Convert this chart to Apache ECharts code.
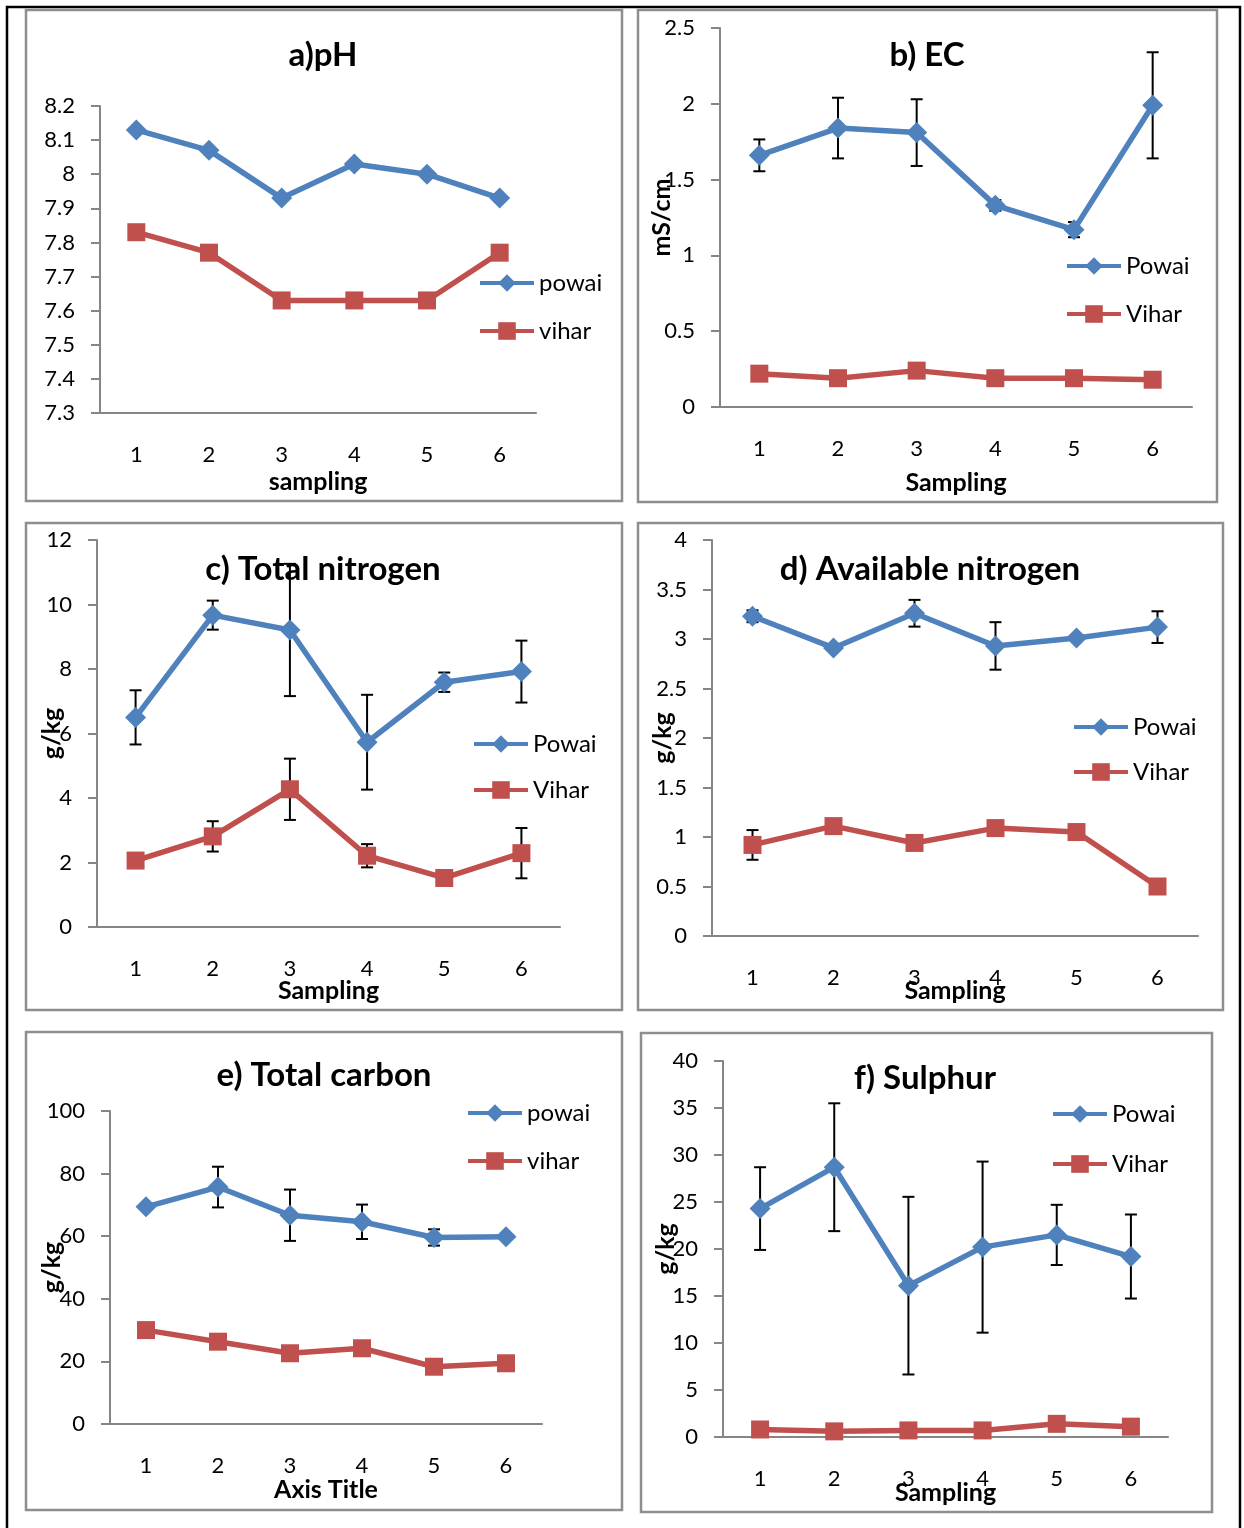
<!DOCTYPE html>
<html>
<head>
<meta charset="utf-8">
<script src="https://cdn.jsdelivr.net/npm/echarts@6/dist/echarts.min.js"></script>
<style>
  html, body { margin: 0; padding: 0; background: #fff; }
  #chart { width: 1244px; height: 1528px; }
</style>
</head>
<body>
<div id="chart"></div>
<script>
// Sampling rounds on the category axis
const samplings = ['1', '2', '3', '4', '5', '6'];

// a) pH
const phPowai = [8.13, 8.07, 7.93, 8.03, 8.00, 7.93];
const phVihar = [7.83, 7.77, 7.63, 7.63, 7.63, 7.77];

// b) EC, mS/cm
const ecPowai = [1.66, 1.84, 1.81, 1.33, 1.17, 1.99];
const ecPowaiErr = [0.105, 0.20, 0.22, 0.035, 0.05, 0.35];
const ecVihar = [0.22, 0.19, 0.24, 0.19, 0.19, 0.18];

// c) Total nitrogen, g/kg
const tnPowai = [6.50, 9.67, 9.21, 5.73, 7.59, 7.92];
const tnPowaiErr = [0.84, 0.45, 2.05, 1.47, 0.30, 0.96];
const tnVihar = [2.06, 2.81, 4.27, 2.21, 1.52, 2.29];
const tnViharErr = [0, 0.47, 0.95, 0.36, 0, 0.78];

// d) Available nitrogen, g/kg
const anPowai = [3.23, 2.91, 3.26, 2.93, 3.01, 3.12];
const anPowaiErr = [0.06, 0, 0.135, 0.24, 0.03, 0.16];
const anVihar = [0.92, 1.11, 0.94, 1.09, 1.05, 0.50];
const anViharErr = [0.15, 0, 0, 0, 0, 0];

// e) Total carbon, g/kg
const tcPowai = [69.4, 75.7, 66.7, 64.6, 59.6, 59.8];
const tcPowaiErr = [0, 6.5, 8.2, 5.5, 2.6, 0];
const tcVihar = [30.0, 26.3, 22.6, 24.2, 18.3, 19.4];

// f) Sulphur, g/kg
const sPowai = [24.3, 28.7, 16.1, 20.2, 21.5, 19.2];
const sPowaiErr = [4.4, 6.8, 9.45, 9.1, 3.2, 4.47];
const sVihar = [0.8, 0.6, 0.7, 0.7, 1.4, 1.1];

// Value-axis ranges [min, max, step]
const phRange = [7.3, 8.2, 0.1];
const ecRange = [0, 2.5, 0.5];
const tnRange = [0, 12, 2];
const anRange = [0, 4, 0.5];
const tcRange = [0, 100, 20];
const sRange = [0, 40, 5];

const BLUE = '#4F81BD';
const RED = '#C0504D';
const AXIS_GREY = '#868686';
const FONT = 'Lato, "Open Sans", sans-serif';

// Layout of each panel: frame box, plot area, title, legend, axis names
const panels = [
  { title: 'a)pH', names: ['powai', 'vihar'], powai: phPowai, vihar: phVihar, range: phRange,
    frame: [26, 10, 596, 491], grid: [100, 106, 436, 307], titleAt: [323, 55],
    legendAt: [478, 272], legendGap: 24, xName: 'sampling', xNameGap: 56, yName: '', yNameGap: 0 },
  { title: 'b) EC', names: ['Powai', 'Vihar'], powai: ecPowai, vihar: ecVihar, range: ecRange,
    powaiErr: ecPowaiErr,
    frame: [638, 10, 579, 492], grid: [720, 28, 472, 379], titleAt: [927, 55],
    legendAt: [1065, 255], legendGap: 24, xName: 'Sampling', xNameGap: 63, yName: 'mS/cm', yNameGap: 46 },
  { title: 'c) Total nitrogen', names: ['Powai', 'Vihar'], powai: tnPowai, vihar: tnVihar, range: tnRange,
    powaiErr: tnPowaiErr, viharErr: tnViharErr,
    frame: [26, 523, 596, 487], grid: [97, 540, 463, 387], titleAt: [323, 569],
    legendAt: [472, 733], legendGap: 22, xName: 'Sampling', xNameGap: 51, yName: 'g/kg', yNameGap: 33 },
  { title: 'd) Available nitrogen', names: ['Powai', 'Vihar'], powai: anPowai, vihar: anVihar, range: anRange,
    powaiErr: anPowaiErr, viharErr: anViharErr,
    frame: [638, 523, 585, 487], grid: [712, 540, 486, 396], titleAt: [930, 569],
    legendAt: [1072, 716], legendGap: 21, xName: 'Sampling', xNameGap: 42, yName: 'g/kg', yNameGap: 37 },
  { title: 'e) Total carbon', names: ['powai', 'vihar'], powai: tcPowai, vihar: tcVihar, range: tcRange,
    powaiErr: tcPowaiErr,
    frame: [26, 1032, 596, 478], grid: [110, 1111, 432, 313], titleAt: [324, 1075],
    legendAt: [466, 1102], legendGap: 24, xName: 'Axis Title', xNameGap: 53, yName: 'g/kg', yNameGap: 46 },
  { title: 'f) Sulphur', names: ['Powai', 'Vihar'], powai: sPowai, vihar: sVihar, range: sRange,
    powaiErr: sPowaiErr,
    frame: [641, 1033, 571, 479], grid: [723, 1061, 445, 376], titleAt: [925, 1078],
    legendAt: [1051, 1103], legendGap: 26, xName: 'Sampling', xNameGap: 43, yName: 'g/kg', yNameGap: 45 }
];

function errorData(values, errs) {
  const out = [];
  values.forEach((v, i) => {
    if (errs && errs[i] > 0) out.push([i, v - errs[i], v + errs[i]]);
  });
  return out;
}

function errorSeries(idx, data) {
  return {
    type: 'custom',
    xAxisIndex: idx,
    yAxisIndex: idx,
    z: 1,
    silent: true,
    encode: { x: 0, y: [1, 2] },
    data: data,
    renderItem: function (params, api) {
      const i = api.value(0);
      const lo = api.coord([i, api.value(1)]);
      const hi = api.coord([i, api.value(2)]);
      const cap = 6;
      const st = { stroke: '#000', lineWidth: 2 };
      return {
        type: 'group',
        children: [
          { type: 'line', shape: { x1: hi[0], y1: hi[1], x2: lo[0], y2: lo[1] }, style: st },
          { type: 'line', shape: { x1: hi[0] - cap, y1: hi[1], x2: hi[0] + cap, y2: hi[1] }, style: st },
          { type: 'line', shape: { x1: lo[0] - cap, y1: lo[1], x2: lo[0] + cap, y2: lo[1] }, style: st }
        ]
      };
    }
  };
}

const option = {
  animation: false,
  backgroundColor: '#fff',
  textStyle: { fontFamily: FONT },
  title: [],
  legend: [],
  grid: [],
  xAxis: [],
  yAxis: [],
  series: [],
  graphic: []
};

// outer frame (open at the bottom)
option.graphic.push({
  type: 'polyline', silent: true, z: 0,
  shape: { points: [[7, 1530], [7, 7], [1240, 7], [1240, 1530]] },
  style: { stroke: '#000', lineWidth: 2.5, fill: null }
});

panels.forEach((p, idx) => {
  option.graphic.push({
    type: 'rect', silent: true, z: 0,
    shape: { x: p.frame[0], y: p.frame[1], width: p.frame[2], height: p.frame[3] },
    style: { stroke: '#8e8e8e', lineWidth: 2.5, fill: null }
  });

  option.title.push({
    text: p.title,
    left: p.titleAt[0], top: p.titleAt[1],
    textAlign: 'center', textVerticalAlign: 'middle', padding: 0,
    textStyle: { fontFamily: FONT, fontWeight: 'bold', fontSize: 33, color: '#000' }
  });

  option.legend.push({
    data: p.names,
    orient: 'vertical',
    left: p.legendAt[0], top: p.legendAt[1] - 1,
    padding: 0,
    itemWidth: 54, itemHeight: 22, itemGap: p.legendGap,
    selectedMode: false,
    lineStyle: { width: 4 },
    textStyle: { fontFamily: FONT, fontSize: 24, color: '#000' }
  });

  option.grid.push({ left: p.grid[0], top: p.grid[1], width: p.grid[2], height: p.grid[3], containLabel: false });

  option.xAxis.push({
    type: 'category', gridIndex: idx, data: samplings, boundaryGap: true,
    axisLine: { show: true, lineStyle: { color: AXIS_GREY, width: 2 } },
    axisTick: { show: false },
    axisLabel: { color: '#000', fontFamily: FONT, fontSize: 22, margin: 31 },
    name: p.xName, nameLocation: 'middle', nameGap: p.xNameGap, nameMoveOverlap: false,
    nameTextStyle: { color: '#000', fontFamily: FONT, fontWeight: 'bold', fontSize: 25 }
  });

  option.yAxis.push({
    type: 'value', gridIndex: idx,
    min: p.range[0], max: p.range[1], interval: p.range[2],
    axisLine: { show: true, lineStyle: { color: AXIS_GREY, width: 2 } },
    axisTick: { show: true, inside: false, length: 9, lineStyle: { color: AXIS_GREY, width: 2 } },
    splitLine: { show: false },
    axisLabel: { color: '#000', fontFamily: FONT, fontSize: 22, margin: 25,
      formatter: v => String(Math.round(v * 100) / 100) },
    name: p.yName, nameLocation: 'middle', nameGap: p.yNameGap, nameMoveOverlap: false,
    nameTextStyle: { color: '#000', fontFamily: FONT, fontWeight: 'bold', fontSize: 25 }
  });

  option.series.push({
    name: p.names[0], type: 'line', xAxisIndex: idx, yAxisIndex: idx, z: 3,
    data: p.powai, symbol: 'diamond', symbolSize: 21,
    lineStyle: { color: BLUE, width: 5.5 }, itemStyle: { color: BLUE }
  });
  option.series.push({
    name: p.names[1], type: 'line', xAxisIndex: idx, yAxisIndex: idx, z: 3,
    data: p.vihar, symbol: 'rect', symbolSize: 18,
    lineStyle: { color: RED, width: 5.5 }, itemStyle: { color: RED }
  });

  const pe = errorData(p.powai, p.powaiErr);
  if (pe.length) option.series.push(errorSeries(idx, pe));
  const ve = errorData(p.vihar, p.viharErr);
  if (ve.length) option.series.push(errorSeries(idx, ve));
});

const chart = echarts.init(document.getElementById('chart'), null, { renderer: 'canvas' });
chart.setOption(option);
</script>
</body>
</html>
